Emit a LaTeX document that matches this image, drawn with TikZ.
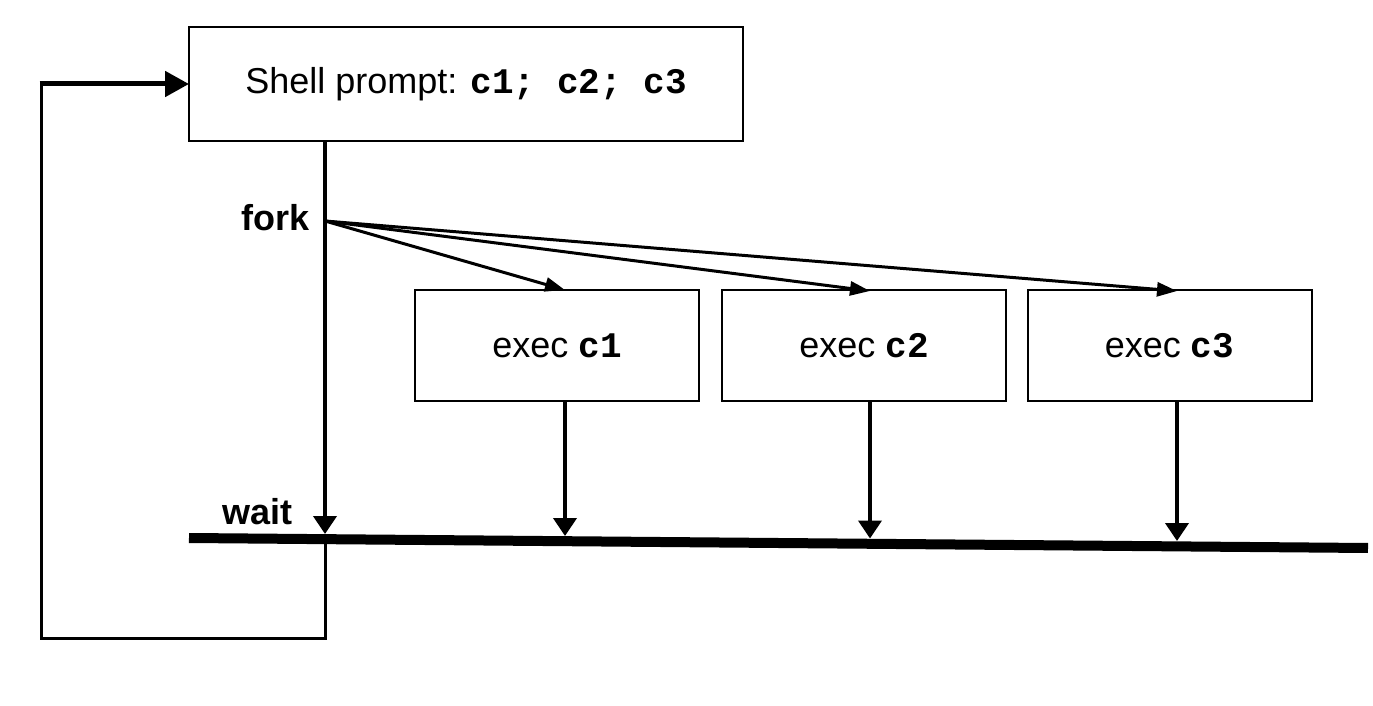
\documentclass[tikz,border=0pt]{standalone}
\usepackage{fontspec}
\setmainfont{Liberation Sans}
\setmonofont{Liberation Mono}
\usetikzlibrary{arrows.meta}
\begin{document}
\begin{tikzpicture}[x=0.5pt,y=-0.5pt,
  txt/.style={font=\fontsize{18}{21}\selectfont},
  lbl/.style={font=\fontsize{18}{21}\selectfont\bfseries,inner sep=0pt},
  procbox/.style={draw,line width=1pt,inner sep=0pt,outer sep=0pt,txt},
  shellbox/.style={procbox,minimum width=277pt,minimum height=57pt},
  execbox/.style={procbox,minimum width=142pt,minimum height=55.5pt},
  mainline/.style={line width=2pt},
  loopline/.style={line width=1.5pt},
  waitline/.style={line width=5pt},
  downarrow/.style={line width=2pt,-{Triangle[length=9pt,width=11.5pt]}},
  forkarrow/.style={line width=1.5pt,-{Triangle[length=10pt,width=7pt]}},
  backarrow/.style={line width=2.5pt,-{Triangle[length=12pt,width=12.5pt]}}]
\useasboundingbox[fill=white] (0,0) rectangle (1373,706);

\node[shellbox] (shell) at (466,84) {Shell prompt: {\ttfamily\bfseries c1; c2; c3}};
\node[execbox] (e1) at (557,345.5) {exec {\ttfamily\bfseries c1}};
\node[execbox] (e2) at (864,345.5) {exec {\ttfamily\bfseries c2}};
\node[execbox] (e3) at (1169.5,345.5) {exec {\ttfamily\bfseries c3}};

\coordinate (fork) at (325,221);
\coordinate (w0) at (189,538);
\coordinate (w1) at (1368,548);
\coordinate (ws) at (325,534);
\coordinate (w1a) at (565,536);
\coordinate (w2a) at (870,538.5);
\coordinate (w3a) at (1177,541);
\coordinate (wx) at (325,540);
\coordinate (lb) at (325,638);
\coordinate (ll) at (41,638);
\coordinate (lt) at (41,84);

\node[lbl,anchor=east] (forklbl) at (310,218) {fork};
\node[lbl,anchor=west] (waitlbl) at (222,512) {wait};

% wait bar
\draw[waitline] (w0) -- (w1);

% main shell line
\draw[mainline] (shell.south -| fork) -- (fork);
\draw[downarrow] (fork) -- (ws);

% fork arrows
\draw[forkarrow] (fork) -- (e1.north -| w1a);
\draw[forkarrow] (fork) -- ([yshift=-0.5pt]e2.north -| w2a);
\draw[forkarrow] (fork) -- ([yshift=-0.5pt]e3.north -| w3a);

% exec to wait
\draw[downarrow] (e1.south -| w1a) -- (w1a);
\draw[downarrow] (e2.south -| w2a) -- (w2a);
\draw[downarrow] (e3.south -| w3a) -- (w3a);

% loop back
\draw[loopline] (wx) -- (lb) -- (ll) -- (lt);
\draw[backarrow] ([xshift=-0.75pt]lt) -- (shell.west);
\end{tikzpicture}
\end{document}
